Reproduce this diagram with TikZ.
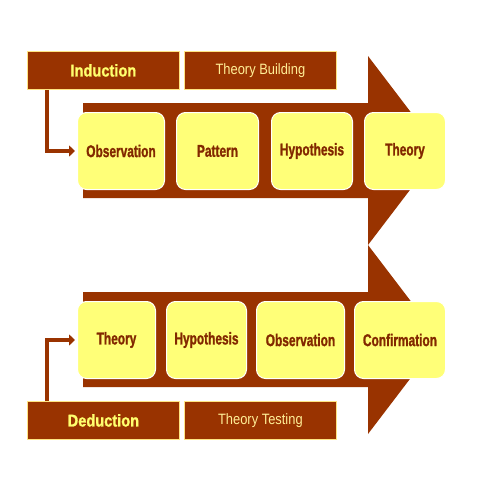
\documentclass[tikz,border=0pt]{standalone}
\usepackage{fontspec}
\setmainfont{Liberation Sans}
\newfontfamily\boxfont[FakeStretch=0.7,BoldFeatures={FakeBold=1.2}]{Liberation Sans}
\newfontfamily\tagfont[FakeStretch=0.86,BoldFeatures={FakeBold=1.2}]{Liberation Sans}
\usetikzlibrary{arrows.meta}
\definecolor{rust}{RGB}{153,51,0}
\definecolor{darkrust}{RGB}{130,40,0}
\definecolor{lemon}{RGB}{255,255,120}
\definecolor{cream}{RGB}{255,228,130}
\definecolor{brightyel}{RGB}{255,255,110}
\definecolor{paleyel}{RGB}{255,238,150}
\tikzstyle{stagebox}=[draw=white,line width=1pt,fill=lemon,rounded corners=9pt,minimum height=77pt,inner sep=1pt,text=darkrust,font=\boxfont\fontsize{17}{20}\selectfont\bfseries]
\tikzstyle{tagbox}=[draw=cream,line width=0.8pt,fill=rust,minimum width=152pt,minimum height=38pt,anchor=north west,text=paleyel]
\tikzstyle{elbow}=[draw=rust,line width=3.3pt,-{Triangle[length=6pt,width=11pt]},shorten >=2pt]

\begin{document}
\begin{tikzpicture}[x=1pt,y=-1pt]
\useasboundingbox (0,0) rectangle (480,480);
% big arrows
\fill[rust] (83,103) -- (368,103) -- (368,56) -- (440,150.5) -- (368,245) -- (368,198) -- (83,198) -- cycle;
\fill[rust] (83,292) -- (368,292) -- (368,245) -- (440,339.5) -- (368,434) -- (368,387) -- (83,387) -- cycle;
% labels
\node[tagbox,text=brightyel,font=\tagfont\fontsize{17}{20}\selectfont\bfseries] (ind) at (27,51) {Induction};
\node[tagbox,font=\tagfont\fontsize{15}{18}\selectfont] (tb) at (184,51) {Theory Building};
\node[tagbox,text=brightyel,font=\tagfont\fontsize{17}{20}\selectfont\bfseries] (ded) at (27,401) {Deduction};
\node[tagbox,font=\tagfont\fontsize{15}{18}\selectfont] (tt) at (184,401) {Theory Testing};
% top row
\node[stagebox,minimum width=87pt,anchor=north west] (t_1) at (77,112) {Observation};
\node[stagebox,minimum width=82pt,anchor=north west] (t_2) at (176,112) {Pattern};
\node[stagebox,minimum width=81pt,anchor=north west] (t_3) at (271,112) {Hypothesis};
\node[stagebox,minimum width=81pt,anchor=north west] (t_4) at (364,112) {Theory};
% bottom row
\node[stagebox,minimum width=78pt,anchor=north west] (b_1) at (77,301) {Theory};
\node[stagebox,minimum width=80pt,anchor=north west] (b_2) at (166,301) {Hypothesis};
\node[stagebox,minimum width=88pt,anchor=north west] (b_3) at (256,301) {Observation};
\node[stagebox,minimum width=91pt,anchor=north west] (b_4) at (354,301) {Confirmation};
% connectors
\draw[elbow] ([xshift=20pt]ind.south west) |- (t_1.west);
\draw[elbow] ([xshift=20pt]ded.north west) |- (b_1.west);
\end{tikzpicture}
\end{document}
